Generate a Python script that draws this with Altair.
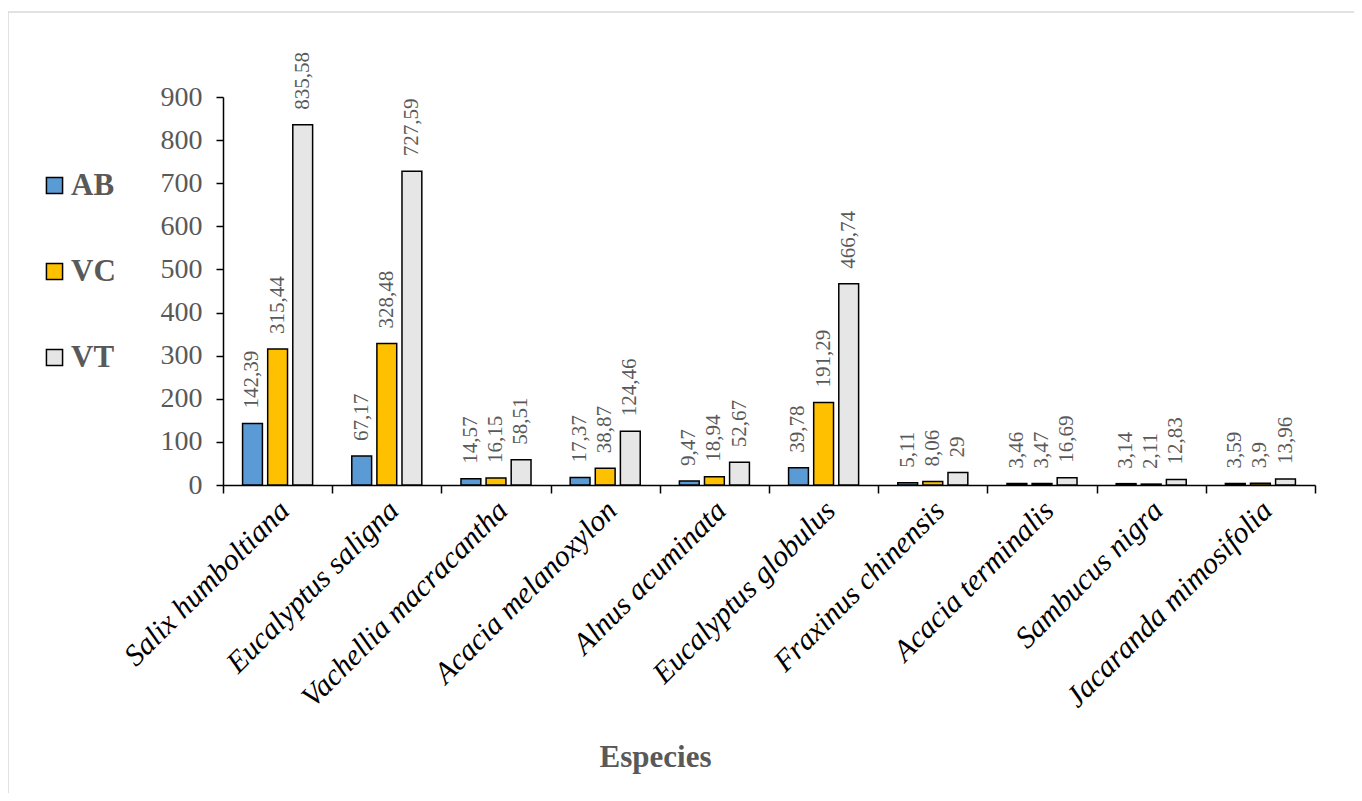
import altair as alt
import pandas as pd

species = ["Salix humboltiana", "Eucalyptus saligna", "Vachellia macracantha",
           "Acacia melanoxylon", "Alnus acuminata", "Eucalyptus globulus",
           "Fraxinus chinensis", "Acacia terminalis", "Sambucus nigra",
           "Jacaranda mimosifolia"]
series = ["AB", "VC", "VT"]
ab = [142.39, 67.17, 14.57, 17.37, 9.47, 39.78, 5.11, 3.46, 3.14, 3.59]
vc = [315.44, 328.48, 16.15, 38.87, 18.94, 191.29, 8.06, 3.47, 2.11, 3.9]
vt = [835.58, 727.59, 58.51, 124.46, 52.67, 466.74, 29, 16.69, 12.83, 13.96]
colors = ["#5B9BD5", "#FFC000", "#E7E6E6"]
y_ticks = [0, 100, 200, 300, 400, 500, 600, 700, 800, 900]

rows = []
for s, vals in zip(series, [ab, vc, vt]):
    for sp, v in zip(species, vals):
        rows.append({"Especie": sp, "Serie": s, "Valor": v,
                     "Etiqueta": f"{v:g}".replace(".", ",")})
df = pd.DataFrame(rows)

SERIF = "Liberation Serif, Times New Roman, serif"
W, H = 1092, 388

x = alt.X("Especie:N", sort=species, title="Especies",
          scale=alt.Scale(paddingInner=0, paddingOuter=0),
          axis=alt.Axis(labelAngle=-45, labelFont=SERIF, labelFontStyle="italic",
                        labelFontSize=30, labelColor="black", labelPadding=2,
                        labelOffset=-4,
                        labelAlign="right", labelBaseline="top",
                        tickBand="extent", tickSize=8, tickColor="black",
                        domainColor="black", domainWidth=1.5, tickWidth=1.5,
                        titleFont=SERIF, titleFontSize=31, titleFontWeight="bold",
                        titleColor="#595959", titleX=432, titleY=272,
                        titleBaseline="middle", labelLimit=400))
xo = alt.XOffset("Serie:N", sort=series,
                 scale=alt.Scale(paddingInner=0.21, paddingOuter=0.78))
y = alt.Y("Valor:Q", title=None,
          scale=alt.Scale(domain=[0, 900], nice=False),
          axis=alt.Axis(values=y_ticks, grid=False, labelFont=SERIF,
                        labelFontSize=28, labelColor="#595959", tickSize=7,
                        tickColor="black", domainColor="black", domainWidth=1.5,
                        tickWidth=1.5, labelPadding=14))

bars = alt.Chart(df).mark_bar(stroke="black", strokeWidth=1.5).encode(
    x=x, xOffset=xo, y=y,
    color=alt.Color("Serie:N", sort=series,
                    scale=alt.Scale(domain=series, range=colors),
                    legend=alt.Legend(title=None, orient="none", legendX=-184,
                                      legendY=73, symbolType="square",
                                      symbolSize=260, symbolStrokeColor="black",
                                      symbolStrokeWidth=1.5, labelFont=SERIF,
                                      labelFontSize=31, labelFontWeight="bold",
                                      labelColor="#595959", rowPadding=54,
                                      labelOffset=1)),
)

labels = alt.Chart(df).mark_text(angle=270, align="left", baseline="middle",
                                 dx=15, font=SERIF, fontSize=21,
                                 color="#595959").encode(
    x=alt.X("Especie:N", sort=species), xOffset=alt.XOffset("Serie:N", sort=series),
    y="Valor:Q", text="Etiqueta:N")

frame = alt.Chart(alt.Data(values=[{"a": 1}])).mark_rect(
    fill=None, stroke="#d9d9d9", strokeWidth=1.5).encode(
    x=alt.value(-215), x2=alt.value(1200), y=alt.value(-85), y2=alt.value(800))

chart = alt.layer(frame, bars, labels).properties(
    width=W, height=H,
    autosize=alt.AutoSizeParams(type="none"),
    padding={"left": 215, "top": 89, "right": 39, "bottom": 308},
).configure(background="white").configure_view(strokeWidth=0, stroke="transparent")

chart.save("out.html", embed_options={"renderer": "svg", "actions": False})
